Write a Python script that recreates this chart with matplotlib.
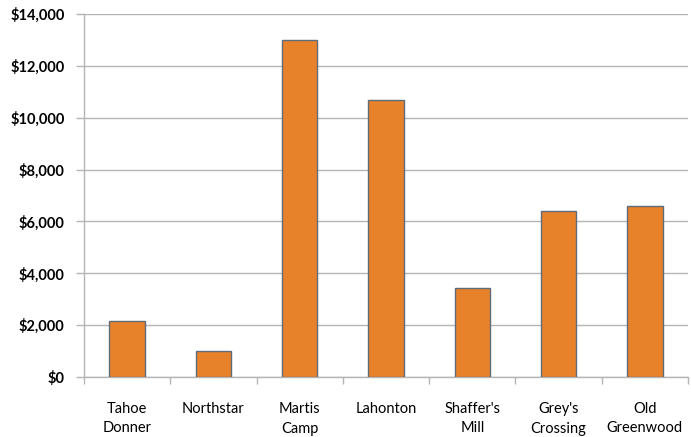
import matplotlib
matplotlib.use("Agg")
import matplotlib.pyplot as plt
import numpy as np
from matplotlib.ticker import FuncFormatter, FixedLocator

categories = ["Tahoe\nDonner", "Northstar", "Martis\nCamp", "Lahonton",
              "Shaffer's\nMill", "Grey's\nCrossing", "Old\nGreenwood"]
values = [2150, 1000, 13000, 10700, 3450, 6400, 6600]
yticks = [0, 2000, 4000, 6000, 8000, 10000, 12000, 14000]

plt.rcParams['font.family'] = ['Lato', 'DejaVu Sans']

fig = plt.figure(figsize=(6.91, 4.37), dpi=100)
ax = fig.add_axes([84/691, 60/437, 604/691, 363/437])

x = np.arange(len(categories))
ax.bar(x, values, width=0.41, color="#E8822A", edgecolor="#5f6b78", linewidth=1.0, zorder=3)

ax.set_xlim(-0.5, len(categories) - 0.5)
ax.set_ylim(0, 14000)
ax.set_yticks(yticks)
ax.yaxis.set_major_formatter(FuncFormatter(lambda v, p: f"${v:,.0f}"))
ax.grid(axis="y", color="#b5b5b5", linewidth=1.0, zorder=0)

ax.set_xticks(x)
ax.set_xticklabels(categories, fontsize=10.5, linespacing=1.5)
ax.tick_params(axis="x", which="major", length=0, pad=18)
ax.xaxis.set_minor_locator(FixedLocator(np.arange(-0.5, len(categories), 1.0)))
ax.tick_params(axis="x", which="minor", length=5, color="#b5b5b5", width=1.0)
ax.tick_params(axis="y", length=6, color="#b5b5b5", width=1.0, labelsize=10.5, pad=8)
for lbl in ax.get_yticklabels():
    lbl.set_fontweight("bold")

for s in ["top", "right"]:
    ax.spines[s].set_visible(False)
for s in ["left", "bottom"]:
    ax.spines[s].set_color("#b5b5b5")
    ax.spines[s].set_linewidth(1.0)

fig.savefig("out.png", dpi=100)
